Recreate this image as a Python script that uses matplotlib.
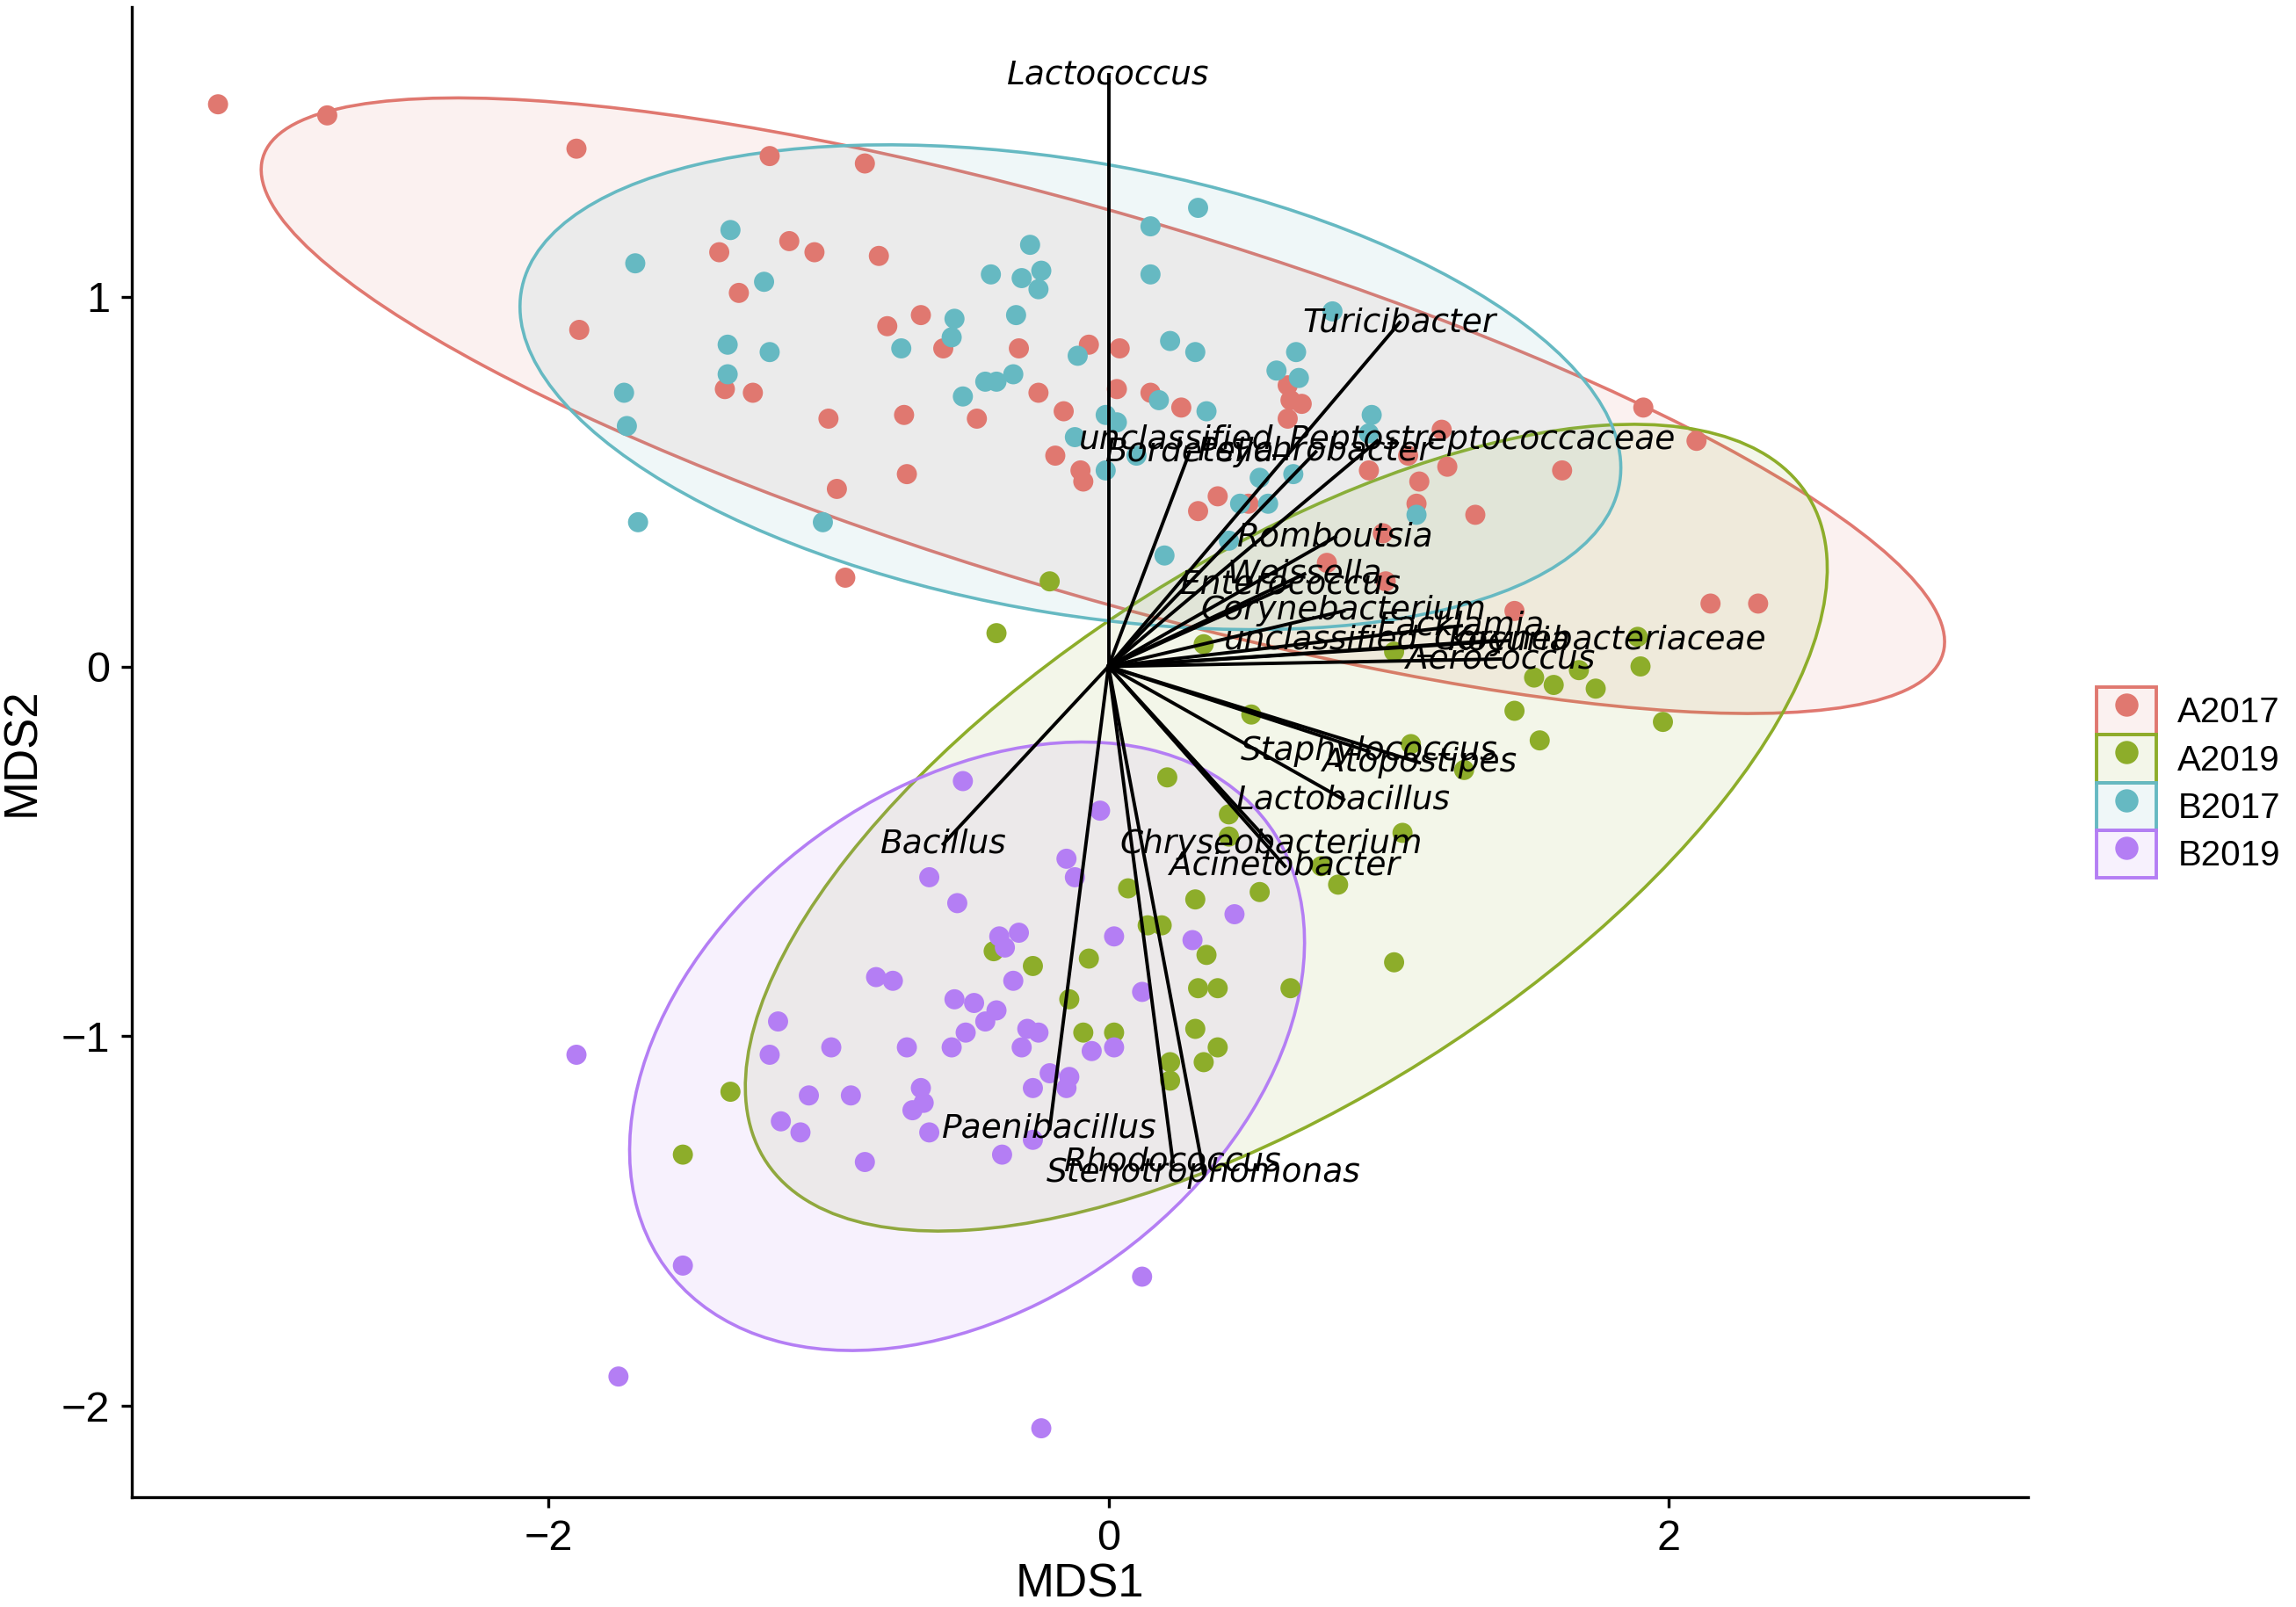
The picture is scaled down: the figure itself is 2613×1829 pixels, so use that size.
import numpy as np
import matplotlib
matplotlib.use("Agg")
import matplotlib.pyplot as plt
from matplotlib.patches import Ellipse, Patch
from matplotlib.lines import Line2D
from matplotlib.legend_handler import HandlerTuple
from matplotlib.colors import to_rgba

plt.rcParams["font.family"] = ["Liberation Sans", "DejaVu Sans"]

groups = ["A2017", "A2019", "B2017", "B2019"]
group_colors = ["#E07870", "#8DAD2A", "#66B9C2", "#B47EF4"]

# sample scores (MDS1, MDS2)
a2017_x = [-3.18, -2.79, -1.90, -1.21, -0.87, -1.39, -1.14, -1.05, -0.82, -1.32, -1.89, -0.67, -0.79, -0.59,
           -0.32, -0.07, 0.04, -1.37, -1.27, -0.25, 0.03, 0.15, 0.26, -0.16, -1.00, -0.73, -0.47, 0.64, 0.65,
           0.69, 0.64, -0.19, -0.10, -0.09, -0.72, -0.97, -0.94, 0.39, 0.32, 0.50, 1.19, 1.07, 0.93, 1.21, 1.11,
           1.10, 1.31, 0.98, 0.78, 0.99, 1.45, 2.15, 2.32, 1.91, 2.10, 1.62]
a2017_y = [1.52, 1.49, 1.40, 1.38, 1.36, 1.12, 1.15, 1.12, 1.11, 1.01, 0.91, 0.95, 0.92, 0.86,
           0.86, 0.87, 0.86, 0.75, 0.74, 0.74, 0.75, 0.74, 0.70, 0.69, 0.67, 0.68, 0.67, 0.76, 0.72,
           0.71, 0.67, 0.57, 0.53, 0.50, 0.52, 0.48, 0.24, 0.46, 0.42, 0.44, 0.64, 0.57, 0.53, 0.54, 0.50,
           0.44, 0.41, 0.36, 0.28, 0.23, 0.15, 0.17, 0.17, 0.70, 0.61, 0.53]

b2017_x = [-1.35, -1.69, -1.23, -1.36, -1.21, -1.36, -1.73, -1.72, -1.68, -1.02, 0.32, 0.15, 0.15, -0.28,
           -0.42, -0.31, -0.24, -0.25, -0.33, -0.55, -0.56, -0.74, -0.11, 0.22, 0.31, 0.80, 0.67, 0.60, 0.68,
           -0.34, -0.44, -0.40, -0.52, -0.01, 0.03, 0.18, 0.35, -0.12, -0.01, 0.10, 0.94, 0.93, 0.54, 0.57,
           0.47, 0.66, 1.10, 0.20, 0.43]
b2017_y = [1.18, 1.09, 1.04, 0.87, 0.85, 0.79, 0.74, 0.65, 0.39, 0.39, 1.24, 1.19, 1.06, 1.14,
           1.06, 1.05, 1.07, 1.02, 0.95, 0.94, 0.89, 0.86, 0.84, 0.88, 0.85, 0.96, 0.85, 0.80, 0.78,
           0.79, 0.77, 0.77, 0.73, 0.68, 0.66, 0.72, 0.69, 0.62, 0.53, 0.57, 0.68, 0.63, 0.51, 0.44,
           0.44, 0.52, 0.41, 0.30, 0.34]

a2019_x = [-0.21, -0.40, 0.34, 1.02, 1.52, 1.59, 1.74, 1.68, 1.90, 1.89, 1.45, 1.54, 1.98, 0.51, 1.08,
           1.27, 0.21, 0.43, 0.43, 1.05, 0.76, 0.82, 0.54, 0.07, 0.31, 0.14, 0.19, 0.35, -0.07, -0.27,
           -0.41, 1.02, 0.65, 0.32, 0.39, -0.14, 0.31, -0.09, 0.02, 0.39, 0.22, 0.34, 0.22, -1.35, -1.52]
a2019_y = [0.23, 0.09, 0.06, 0.04, -0.03, -0.05, -0.06, -0.01, 0.00, 0.08, -0.12, -0.20, -0.15, -0.13, -0.21,
           -0.28, -0.30, -0.40, -0.46, -0.45, -0.54, -0.59, -0.61, -0.60, -0.63, -0.70, -0.70, -0.78, -0.79, -0.81,
           -0.77, -0.80, -0.87, -0.87, -0.87, -0.90, -0.98, -0.99, -0.99, -1.03, -1.07, -1.07, -1.12, -1.15, -1.32]

b2019_x = [-0.52, -0.03, -0.15, -0.12, -0.64, -0.54, 0.45, -0.32, -0.39, -0.37, 0.02, 0.30, -0.83, -0.77,
           -0.34, -0.55, -0.48, -0.40, -0.44, 0.12, -1.18, -0.29, -0.25, -0.51, -0.99, -0.72, -0.56, -0.31,
           -0.06, 0.02, -1.21, -0.27, -0.21, -0.14, -0.15, -1.07, -0.92, -0.67, -0.66, -0.70, -1.17, -1.10,
           -0.64, -0.27, -0.87, -0.38, -1.90, -1.52, -1.75, 0.12, -0.24]
b2019_y = [-0.31, -0.39, -0.52, -0.57, -0.57, -0.64, -0.67, -0.72, -0.73, -0.76, -0.73, -0.74, -0.84, -0.85,
           -0.85, -0.90, -0.91, -0.93, -0.96, -0.88, -0.96, -0.98, -0.99, -0.99, -1.03, -1.03, -1.03, -1.03,
           -1.04, -1.03, -1.05, -1.14, -1.10, -1.11, -1.14, -1.16, -1.16, -1.14, -1.18, -1.20, -1.23, -1.26,
           -1.26, -1.28, -1.34, -1.32, -1.05, -1.62, -1.92, -1.65, -2.06]

# 95% ellipses per group: centre, semi-axes, rotation (deg) in data units
ell_cx = [-0.02, 0.635, -0.136, -0.505]
ell_cy = [0.705, -0.436, 0.755, -1.027]
ell_a = [3.075, 2.078, 1.979, 1.257]
ell_b = [0.522, 0.777, 0.614, 0.741]
ell_angle = [-12.35, 23.4, -7.0, 20.6]

# genus vectors (envfit)
genera = ["Lactococcus", "Turicibacter", "unclassified_Peptostreptococcaceae", "Bordetella", "Psychrobacter",
          "Romboutsia", "Weissella", "Enterococcus", "Corynebacterium", "unclassified_Corynebacteriaceae",
          "Facklamia", "Kocuria", "Aerococcus", "Staphylococcus", "Atopostipes", "Lactobacillus",
          "Chryseobacterium", "Acinetobacter", "Bacillus", "Paenibacillus", "Rhodococcus", "Stenotrophomonas"]
genus_x = [0.00, 1.04, 0.96, 0.29, 0.74, 0.81, 0.70, 0.65, 0.84, 1.38, 1.26, 1.43, 1.40, 0.93, 1.11, 0.84,
           0.58, 0.63, -0.59, -0.21, 0.23, 0.34]
genus_y = [1.60, 0.93, 0.61, 0.58, 0.58, 0.35, 0.25, 0.22, 0.15, 0.07, 0.11, 0.07, 0.02, -0.23, -0.26, -0.36,
           -0.48, -0.54, -0.48, -1.25, -1.34, -1.37]

xs = [a2017_x, a2019_x, b2017_x, b2019_x]
ys = [a2017_y, a2019_y, b2017_y, b2019_y]

fig = plt.figure(figsize=(13.065, 9.145), dpi=200)
ax = fig.add_axes([0.0574, 0.0684, 0.8259, 0.927])

for i, g in enumerate(groups):
    c = group_colors[i]
    ax.add_patch(Ellipse((ell_cx[i], ell_cy[i]), 2 * ell_a[i], 2 * ell_b[i], angle=ell_angle[i],
                         facecolor=to_rgba(c, 0.1), edgecolor=c, lw=1.3, zorder=1))

for i, g in enumerate(groups):
    ax.scatter(xs[i], ys[i], s=68, color=group_colors[i], edgecolors="none", zorder=2)

for gx, gy in zip(genus_x, genus_y):
    ax.plot([0, gx], [0, gy], color="black", lw=1.4, zorder=3)
for gx, gy, name in zip(genus_x, genus_y, genera):
    ax.text(gx, gy, name, ha="center", va="center", fontstyle="italic", fontsize=13.5,
            family="DejaVu Sans", zorder=4)

ax.set_xlim(-3.488, 3.284)
ax.set_ylim(-2.246, 1.782)
ax.set_xticks([-2, 0, 2])
ax.set_yticks([-2, -1, 0, 1])
ax.set_xticklabels(["\u22122", "0", "2"])
ax.set_yticklabels(["\u22122", "\u22121", "0", "1"])
ax.tick_params(labelsize=17.5, length=4.4, width=1.2, pad=4.5, colors="black")
ax.spines["top"].set_visible(False)
ax.spines["right"].set_visible(False)
ax.spines["left"].set_linewidth(1.2)
ax.spines["bottom"].set_linewidth(1.2)
ax.set_xlabel("MDS1", fontsize=19, va="center")
ax.set_ylabel("MDS2", fontsize=19, va="center")
ax.xaxis.set_label_coords(0.5, -0.059)
ax.yaxis.set_label_coords(-0.058, 0.5)

handles = []
for c in group_colors:
    handles.append((Patch(facecolor=to_rgba(c, 0.1), edgecolor=c, lw=1.4),
                    Line2D([], [], marker="o", ls="", color=c, markersize=8.5)))
fig.legend(handles, groups, handler_map={tuple: HandlerTuple(ndivide=1, pad=0)},
           loc="center left", bbox_to_anchor=(0.913, 0.513), frameon=False, fontsize=14.5,
           handlelength=1.7, handleheight=1.7, labelspacing=0.0, handletextpad=0.6,
           borderpad=0, borderaxespad=0)

fig.savefig("out.png", dpi=200)
